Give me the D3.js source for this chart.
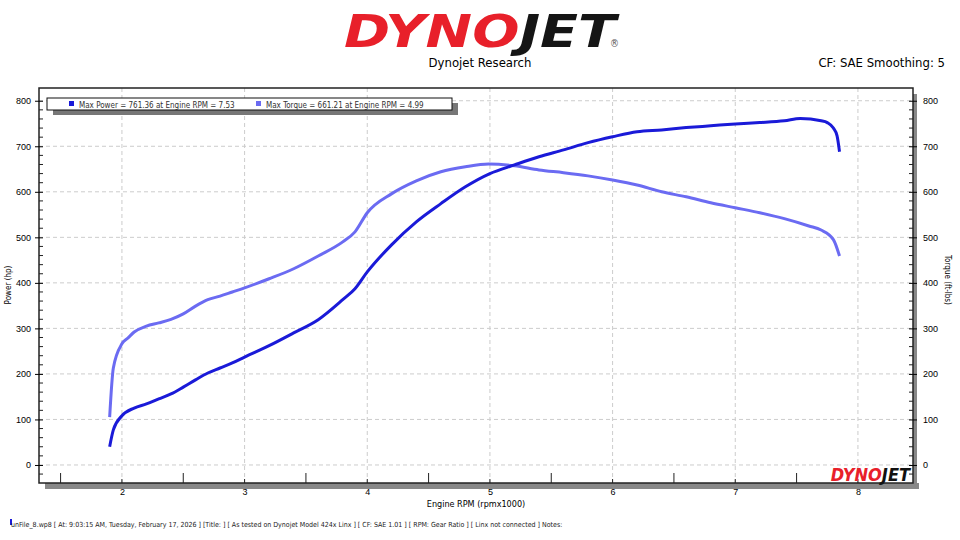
<html lang="en">
<head>
<meta charset="UTF-8">
<title>Dyno chart</title>
<script src="https://cdn.jsdelivr.net/npm/d3@7"></script>
<style>body{margin:0;background:#fff;font-family:"DejaVu Sans Condensed","DejaVu Sans",sans-serif;}</style>
</head>
<body>
<script>
// data
let rpm = [1.90,1.93,2.0,2.1,2.2,2.3,2.4,2.5,2.6,2.7,2.8,2.9,3.0,3.2,3.4,3.6,3.8,3.9,4.0,4.2,4.4,4.6,4.8,5.0,5.2,5.4,5.6,5.8,6.0,6.2,6.4,6.6,6.8,7.0,7.2,7.4,7.53,7.7,7.75,7.8,7.83,7.85]
let power = [40,77,108,125,134,145,156,171,187,202,213,224,237,262,290,319,363,387,424,484,534,574,611,640,659,677,692,708,721,732,736,741,745,749,752,756,761,756,752,740,723,688]
let rpmT = [1.90,1.93,2.0,2.05,2.1,2.2,2.3,2.4,2.5,2.6,2.7,2.8,2.9,3.0,3.2,3.4,3.6,3.8,3.9,4.0,4.2,4.4,4.6,4.8,4.99,5.2,5.4,5.6,5.8,6.0,6.2,6.4,6.6,6.8,7.0,7.2,7.4,7.6,7.7,7.8,7.85]
let torque = [105,213,266,279,292,305,312,320,332,349,363,371,380,389,409,431,459,490,512,554,596,624,644,655,661,657,648,642,635,626,615,600,589,576,565,554,541,525,516,495,459]
let xTicks = [2,3,4,5,6,7,8]
let yTicks = [0,100,200,300,400,500,600,700,800]

let svg = d3.select('body').append('svg').attr('width',960).attr('height',540)

let L=39, R=913, T=88, B=483
let x = d3.scaleLinear().domain([1.324,8.449]).range([L,R])
let y = d3.scaleLinear().domain([-39.6,828]).range([B,T])

// header
let logo = svg.append('text').attr('x',480).attr('y',47).attr('text-anchor','middle')
    .style('font-family','"DejaVu Sans Condensed","DejaVu Sans"').style('font-weight','bold').style('font-style','italic')
    .style('font-size','45px').attr('textLength',272).attr('lengthAdjust','spacingAndGlyphs')
logo.append('tspan').attr('fill','#e8202a').text('DYNO')
logo.append('tspan').attr('fill','#151515').text('JET')
svg.append('text').attr('x',610).attr('y',47).style('font-size','10px').attr('fill','#555').text('®')
svg.append('text').attr('x',480).attr('y',67).attr('text-anchor','middle').style('font-size','13px').text('Dynojet Research')
svg.append('text').attr('x',945).attr('y',67).attr('text-anchor','end').style('font-size','13px').text('CF: SAE Smoothing: 5')

// plot frame shadow
svg.append('rect').attr('x',L+6).attr('y',B).attr('width',R-L).attr('height',6).attr('fill','#888')
svg.append('rect').attr('x',R).attr('y',T+6).attr('width',4).attr('height',B-T).attr('fill','#888')

// grid
svg.append('g').selectAll('line').data(xTicks).enter().append('line')
    .attr('x1',d=>x(d)).attr('x2',d=>x(d)).attr('y1',T).attr('y2',B)
    .attr('stroke','#ccc').attr('stroke-dasharray','4,3')
svg.append('g').selectAll('line').data(yTicks).enter().append('line')
    .attr('x1',L).attr('x2',R).attr('y1',d=>y(d)).attr('y2',d=>y(d))
    .attr('stroke','#ccc').attr('stroke-dasharray','4,3')

svg.append('rect').attr('x',L).attr('y',T).attr('width',R-L).attr('height',B-T)
    .attr('fill','none').attr('stroke','#222').attr('stroke-width',1.5)

// axes
svg.append('g').attr('transform',`translate(${L},0)`)
    .call(d3.axisLeft(y).tickValues(yTicks).tickSize(6).tickSizeOuter(0))
    .call(g=>g.select('.domain').remove())
    .call(g=>g.selectAll('line').attr('x2',4).attr('x1',-4))
    .call(g=>g.selectAll('text').attr('x',-8).style('font-size','9px'))
svg.append('g').attr('transform',`translate(${L},0)`).selectAll('line')
    .data(d3.range(-20,820,20).filter(v=>v%100)).enter().append('line')
    .attr('x1',0).attr('x2',4).attr('y1',d=>y(d)).attr('y2',d=>y(d)).attr('stroke','#222')
svg.append('g').attr('transform',`translate(${R},0)`)
    .call(d3.axisRight(y).tickValues(yTicks).tickSize(6).tickSizeOuter(0))
    .call(g=>g.select('.domain').remove())
    .call(g=>g.selectAll('line').attr('x2',4).attr('x1',-4))
    .call(g=>g.selectAll('text').attr('x',10).style('font-size','9px'))
svg.append('g').attr('transform',`translate(${R},0)`).selectAll('line')
    .data(d3.range(-20,820,20).filter(v=>v%100)).enter().append('line')
    .attr('x1',0).attr('x2',-4).attr('y1',d=>y(d)).attr('y2',d=>y(d)).attr('stroke','#222')
svg.append('g').attr('transform',`translate(0,${B})`)
    .call(d3.axisBottom(x).tickValues(xTicks).tickSize(0))
    .call(g=>g.select('.domain').remove())
    .call(g=>g.selectAll('text').attr('y',6).style('font-size','9px'))
svg.append('g').selectAll('line').data(d3.range(1.5,8.5,0.5)).enter().append('line')
    .attr('x1',d=>x(d)).attr('x2',d=>x(d)).attr('y1',B).attr('y2',d=>d%1?B-10:B-4).attr('stroke','#222')

svg.append('text').attr('x',476).attr('y',507).attr('text-anchor','middle').style('font-size','9px').text('Engine RPM (rpmx1000)')
svg.append('text').attr('transform','translate(11,285) rotate(-90)').attr('text-anchor','middle').style('font-size','8px').text('Power (hp)')
svg.append('text').attr('transform','translate(945,280) rotate(90)').attr('text-anchor','middle').style('font-size','8px').text('Torque (ft-lbs)')

// curves
let line = d3.line().x(d=>x(d[0])).y(d=>y(d[1])).curve(d3.curveMonotoneX)
svg.append('path').attr('d',line(d3.zip(rpmT,torque))).attr('fill','none').attr('stroke','#6b6bf2').attr('stroke-width',3)
svg.append('path').attr('d',line(d3.zip(rpm,power))).attr('fill','none').attr('stroke','#1a1ad8').attr('stroke-width',3)

// legend
svg.append('rect').attr('x',53).attr('y',103).attr('width',405).attr('height',12).attr('fill','#777')
svg.append('rect').attr('x',47).attr('y',98).attr('width',405).attr('height',12).attr('fill','#fff').attr('stroke','#111')
svg.append('rect').attr('x',69).attr('y',101).attr('width',5).attr('height',5).attr('fill','#1a1ad8')
svg.append('text').attr('x',79).attr('y',107.5).style('font-size','8px').attr('fill','#333').text('Max Power = 761.36 at Engine RPM = 7.53')
svg.append('rect').attr('x',256).attr('y',101).attr('width',5).attr('height',5).attr('fill','#6b6bf2')
svg.append('text').attr('x',266).attr('y',107.5).style('font-size','8px').attr('fill','#333').text('Max Torque = 661.21 at Engine RPM = 4.99')

// small logo
let sm = svg.append('text').attr('x',910).attr('y',481).attr('text-anchor','end')
    .style('font-family','"DejaVu Sans Condensed","DejaVu Sans"').style('font-weight','bold').style('font-style','italic').style('font-size','18px')
sm.append('tspan').attr('fill','#e8202a').text('DYNO')
sm.append('tspan').attr('fill','#111').text('JET')

// footer
svg.append('rect').attr('x',10).attr('y',519).attr('width',2).attr('height',6).attr('fill','#1a1ad8')
svg.append('text').attr('x',11).attr('y',527).style('font-size','7px').attr('fill','#222')
    .text('unFile_8.wp8 [ At: 9:03:15 AM, Tuesday, February 17, 2026 ] [Title: ]  [ As tested on Dynojet Model 424x Linx ] [ CF: SAE 1.01 ] [ RPM: Gear Ratio ] [ Linx not connected ] Notes:')
</script>
</body>
</html>
